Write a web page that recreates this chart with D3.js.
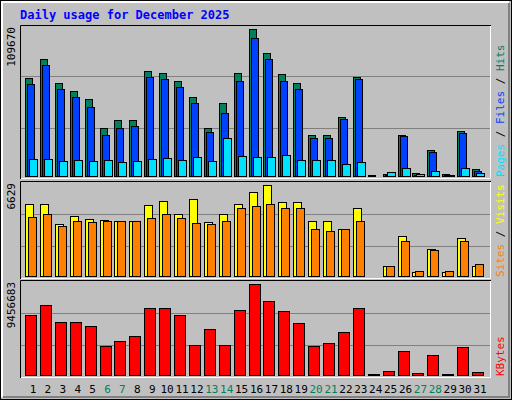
<!DOCTYPE html>
<html><head><meta charset="utf-8">
<script src="https://cdn.jsdelivr.net/npm/d3@7"></script>
<style>body{margin:0;background:#fff}text{font-family:"DejaVu Sans Mono",monospace}</style>
</head><body><svg id="c" width="512" height="400"></svg>
<script>
const days = d3.range(1, 32);
const weekends = [6, 7, 13, 14, 20, 21, 27, 28];
const hits = [73400,87400,69700,63700,57100,35600,41500,41500,78500,77100,71100,59300,35600,54800,77100,109670,91900,76300,69700,30400,30400,43700,74100,500,1500,30400,2200,19300,1500,33300,5200];
const files = [68900,83000,65200,59300,51800,30400,35600,37000,74100,72600,66700,54100,32600,46700,71100,103000,87400,71100,65200,28100,28100,42200,72600,300,700,29600,1100,17800,600,31900,3700];
const pages = [12600,12600,11100,11900,11100,11900,10400,11100,12600,13300,11900,14100,11100,28100,14800,14100,14100,15600,11900,11900,11900,8900,10400,0,3000,5900,1500,3700,700,5900,2200];
const sites = [5260,5260,3820,4390,4180,4110,4030,4030,5190,5480,4540,5620,3960,4540,5260,6120,6629,5400,5400,4030,4030,3390,4970,30,720,2880,290,1950,290,2740,720];
const visits = [4320,4540,3670,4030,3960,4030,4030,4030,4250,4540,4250,3890,3820,4030,4970,5110,5260,4970,4970,3390,3310,3460,4030,30,720,2520,360,1870,360,2520,860];
const kbytes = [6235000,7274000,5508000,5508000,5092000,3014000,3533000,4053000,6963000,6963000,6235000,3118000,4780000,3118000,6755000,9456683,7690000,6651000,5404000,3014000,3325000,4469000,6963000,104000,416000,2494000,208000,2078000,104000,2910000,312000];

const svg = d3.select('#c');
// frame with bevel
svg.append('rect').attr('x',0.5).attr('y',0.5).attr('width',511).attr('height',399).attr('fill','#c0c0c0').attr('stroke','#000');
svg.append('path').attr('d','M2,397V2H509').attr('stroke','#fff').attr('stroke-width',2).attr('fill','none');
svg.append('path').attr('d','M3,397H509V3').attr('stroke','#808080').attr('stroke-width',2).attr('fill','none');

svg.append('text').attr('x',20).attr('y',19).attr('fill','#0000ff').attr('font-weight','bold').attr('font-size',12).text('Daily usage for December 2025');

const x = d3.scaleLinear().domain([1, 32]).range([25, 25 + 31 * 14.9]);

function panel(top, bottom, max, maxLabel) {
  const y = d3.scaleLinear().domain([0, max]).range([bottom - 3, top + 4]);
  const g = svg.append('g');
  g.append('rect').attr('x',20).attr('y',top).attr('width',471).attr('height',bottom-top).attr('fill','#c0c0c0');
  [1/3, 2/3].forEach(f => {
    const yy = Math.round(bottom - (bottom - top) * f) + 0.5;
    g.append('line').attr('x1',21).attr('x2',490).attr('y1',yy).attr('y2',yy).attr('stroke','#808080');
  });
  g.append('path').attr('d',`M${20.5},${bottom}V${top+0.5}H491`).attr('stroke','#000').attr('fill','none');
  g.append('path').attr('d',`M${21},${bottom-0.5}H${490.5}V${top+1}`).attr('stroke','#fff').attr('fill','none');
  svg.append('text').attr('transform',`translate(15,${top+2}) rotate(-90)`).attr('text-anchor','end')
    .attr('font-size',11).attr('font-family','DejaVu Sans').attr('fill','#000').text(maxLabel);
  return { g, y };
}

function bars(p, data, off, w, color) {
  p.g.selectAll(null).data(data).enter().append('rect')
    .attr('x', (d, i) => Math.round(x(days[i])) + off + 0.5)
    .attr('y', d => Math.round(p.y(d)) + 0.5)
    .attr('width', w)
    .attr('height', d => Math.max(0, Math.round(p.y(0)) - Math.round(p.y(d))))
    .attr('fill', color).attr('stroke', '#000');
}

const p1 = panel(25, 179, 109670, '109670');
bars(p1, hits, 0, 7, '#00805c');
bars(p1, files, 2, 7, '#0040ff');
bars(p1, pages, 4, 8, '#00e0ff');

const p2 = panel(181, 279, 6629, '6629');
bars(p2, sites, 0, 8, '#ffff00');
bars(p2, visits, 3, 8, '#ff8000');

const p3 = panel(280, 378, 9456683, '9456683');
bars(p3, kbytes, 0, 11, '#ff0000');

// day labels
svg.selectAll(null).data(days).enter().append('text')
  .attr('x', d => x(d) + 8).attr('y', 393).attr('text-anchor','middle')
  .attr('font-size', 11).attr('font-family','DejaVu Sans')
  .attr('fill', d => weekends.includes(d) ? '#00805c' : '#000').text(d => d);

// right side legends
function legend(yBottom, parts) {
  const t = svg.append('text').attr('transform',`translate(504,${yBottom}) rotate(-90)`).attr('font-size',11);
  parts.forEach(([s, c]) => t.append('tspan').attr('fill', c).text(s));
}
legend(177, [['Pages','#00e0ff'],[' / ','#000'],['Files','#0040ff'],[' / ','#000'],['Hits','#00805c']]);
legend(277, [['Sites','#ff8000'],[' / ','#000'],['Visits','#ffff00']]);
legend(376, [['KBytes','#ff0000']]);
</script></body></html>
